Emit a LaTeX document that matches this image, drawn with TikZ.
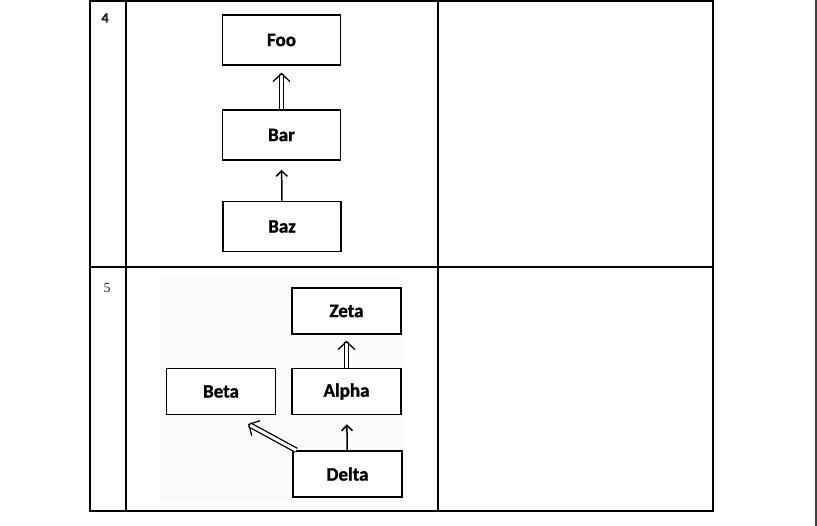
\documentclass[tikz,border=0pt]{standalone}
\usepackage{fontspec}
\setmainfont{Liberation Serif}
\newfontfamily\boxfont{Carlito}[BoldFeatures={FakeBold=1.3}]
\usetikzlibrary{arrows.meta}
\tikzset{
  cls/.style={draw, line width=1.5pt, fill=white, minimum width=118pt, minimum height=50pt,
    font=\boxfont\bfseries\fontsize{19}{22}\selectfont},
  small cls/.style={cls, minimum width=109pt, minimum height=46pt},
  inherit/.style={double, double distance=3pt, line width=1.3pt, -{Straight Barb[length=8pt, width=17pt, line width=1.3pt]}},
  uses/.style={line width=1.5pt, -{Straight Barb[length=5.5pt, width=11pt]}},
  grid/.style={line width=1.3pt},
  rownum/.style={font=\fontsize{14}{16}\selectfont, text=black!85}
}
\begin{document}
\begin{tikzpicture}[x=1pt, y=-1pt]
  \useasboundingbox (0,0) rectangle (817,526);
  % table
  \draw[grid] (90,1) rectangle (713,511);
  \draw[grid] (126,1) -- (126,511);
  \draw[grid] (438,1) -- (438,511);
  \draw[grid] (90,267) -- (713,267);
  \draw[line width=1.3pt, black!75] (816,0) -- (816,526);
  \node[rownum] (n4) at (105,18) {\boxfont\bfseries 4};
  \node[rownum] (n5) at (107,288) {5};

  % row 4
  \node[cls] (foo) at (281.5,40) {Foo};
  \node[cls] (bar) at (281.5,135) {Bar};
  \node[cls] (baz) at (282,226.5) {Baz};
  \draw[inherit, shorten >=7pt] (bar) -- (foo);
  \draw[uses, shorten >=9pt] (baz) -- (bar);

  % row 5
  \fill[black!1.5] (160,278) rectangle (403,502);
  \node[small cls] (zeta) at (346.5,311) {Zeta};
  \node[small cls] (beta) at (221,391.5) {Beta};
  \node[small cls] (alpha) at (346.5,391.5) {Alpha};
  \node[small cls] (delta) at (347.5,474) {Delta};
  \coordinate (betatip) at (248,424);
  \draw[inherit, shorten >=6pt] (alpha) -- (zeta);
  \draw[uses, shorten >=9pt] (delta) -- (alpha);
  \draw[inherit] ([xshift=4pt]delta.north west) -- (betatip);
\end{tikzpicture}
\end{document}
